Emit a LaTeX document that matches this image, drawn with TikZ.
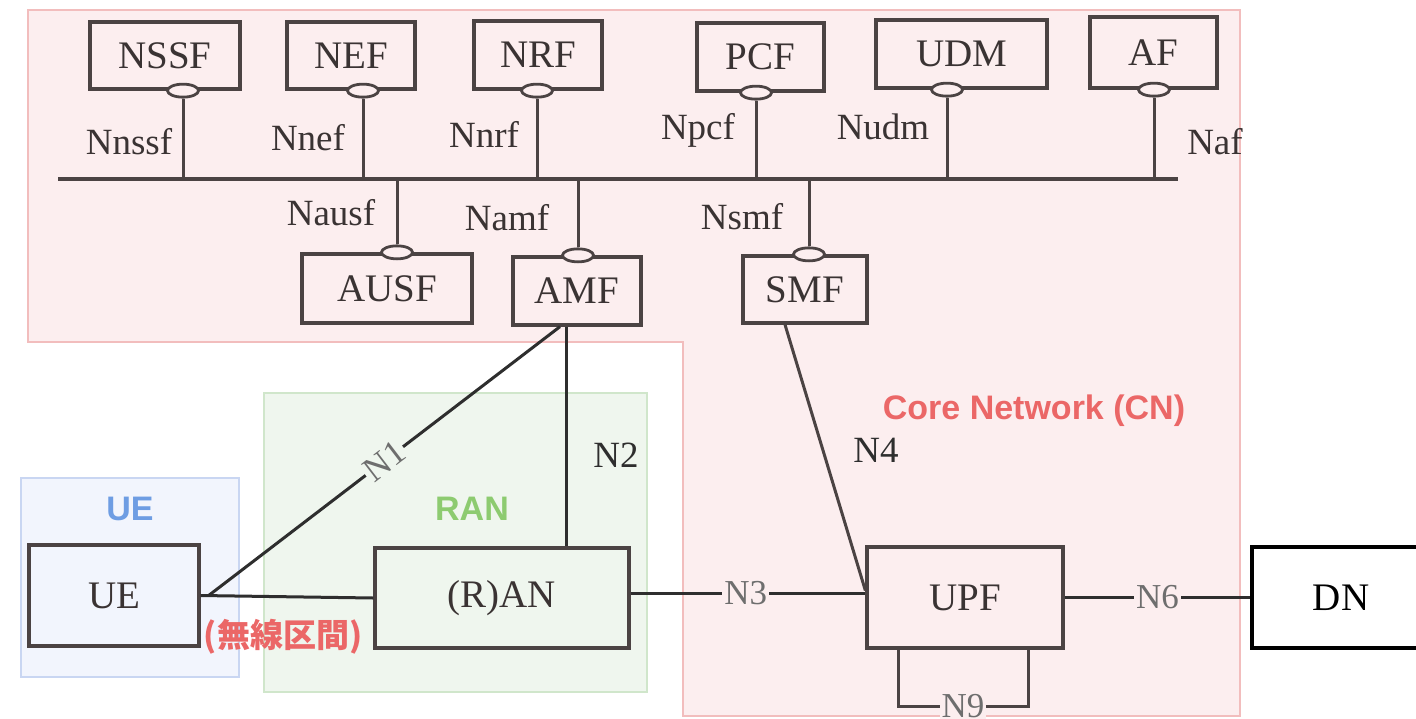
\documentclass[tikz,border=0pt]{standalone}
\usepackage{fontspec}
\setmainfont{Liberation Serif}
\newfontfamily\labelsans{Liberation Sans}
\newfontfamily\cjk{Noto Sans CJK JP}
\usetikzlibrary{shapes.geometric}

\definecolor{cnpink}{HTML}{FCEEEF}
\definecolor{cnedge}{HTML}{F2BDBD}
\definecolor{uefill}{HTML}{F2F5FD}
\definecolor{ueedge}{HTML}{C9D6F2}
\definecolor{ranfill}{HTML}{EFF6EE}
\definecolor{ranedge}{HTML}{D0E6CB}
\definecolor{linec}{HTML}{4B4343}
\definecolor{darkline}{HTML}{2E2E2E}
\definecolor{txtc}{HTML}{3A3333}
\definecolor{ifgray}{HTML}{6E6E6E}
\definecolor{cnred}{HTML}{EB6767}
\definecolor{ueblue}{HTML}{6E9DE3}
\definecolor{rangreen}{HTML}{8DCB70}

\newcommand\nffont{\fontsize{39}{40}\selectfont}
\newcommand\iffont{\fontsize{37}{38}\selectfont}
\newcommand\refpfont{\fontsize{35}{36}\selectfont}
\newcommand\grpfont{\fontsize{34}{35}\selectfont\labelsans\bfseries}

\tikzset{
  nfbox/.style={draw=linec, line width=3.3pt, fill=cnpink, text=txtc,
    font=\nffont, inner sep=0pt},
  port/.style={ellipse, draw=linec, line width=2.8pt, fill=cnpink,
    minimum width=31pt, minimum height=13pt, inner sep=0pt},
  busline/.style={draw=linec, line width=3.3pt},
  ifline/.style={draw=linec, line width=3pt},
  reflink/.style={draw=darkline, line width=3pt},
  iflabel/.style={text=txtc, font=\iffont, inner sep=0pt},
  reflabel/.style={text=ifgray, font=\refpfont, inner sep=2pt},
  grplabel/.style={font=\grpfont, inner sep=0pt},
}

\begin{document}
\begin{tikzpicture}[x=1pt, y=-1pt]
\useasboundingbox (0,0) rectangle (1416,718);

% ---------- grouping areas ----------
\path[fill=cnpink, draw=cnedge, line width=1.2pt]
  (28,10) -- (1240,10) -- (1240,716) -- (683,716) -- (683,342) -- (28,342) -- cycle;
\path[fill=uefill, draw=ueedge, line width=1.2pt] (21,478) rectangle (239,677);
\path[fill=ranfill, draw=ranedge, line width=1.2pt] (264,393) rectangle (647,692);

\node[grplabel, text=cnred] (cnlbl) at (1034,411) {Core Network (CN)};
\node[grplabel, text=ueblue] (uelbl) at (130,509) {UE};
\node[grplabel, text=rangreen] (ranlbl) at (472,509) {RAN};

% ---------- service based bus ----------
\coordinate (busL) at (58,179);
\coordinate (busR) at (1178,179);
\draw[busline] (busL) -- (busR);

% ---------- network functions above the bus ----------
\node[nfbox, minimum width=150pt, minimum height=67pt] (nssf) at (165,55.5) {NSSF};
\node[nfbox, minimum width=128pt, minimum height=67pt] (nef)  at (351,55.5) {NEF};
\node[nfbox, minimum width=128pt, minimum height=68pt] (nrf)  at (538,55)   {NRF};
\node[nfbox, minimum width=127pt, minimum height=68pt] (pcf)  at (760.5,57) {PCF};
\node[nfbox, minimum width=171pt, minimum height=68pt] (udm)  at (961.5,54) {UDM};
\node[nfbox, minimum width=127pt, minimum height=71pt] (af)   at (1153.5,52.5) {AF};

% ---------- network functions below the bus ----------
\node[nfbox, minimum width=170pt, minimum height=69pt] (ausf) at (387,288.5) {AUSF};
\node[nfbox, minimum width=128pt, minimum height=68pt] (amf)  at (577,291)   {AMF};
\node[nfbox, minimum width=124pt, minimum height=67pt] (smf)  at (805,289.5) {SMF};

% ---------- service interface ports ----------
\node[port] (nssfp) at (183,0 |- nssf.south) {};
\node[port] (nefp)  at (363,0 |- nef.south) {};
\node[port] (nrfp)  at (537,0 |- nrf.south) {};
\node[port] (pcfp)  at (756,0 |- pcf.south) {};
\node[port] (udmp)  at (947,0 |- udm.south) {};
\node[port] (afp)   at (1154,0 |- af.south) {};
\node[port] (ausfp) at (397,0 |- ausf.north) {};
\node[port] (amfp)  at (578,0 |- amf.north) {};
\node[port] (smfp)  at (809,0 |- smf.north) {};

\foreach \p in {nssfp,nefp,nrfp,pcfp,udmp,afp}
  \draw[ifline] (\p.south) -- (\p.south |- busL);
\foreach \p in {ausfp,amfp,smfp}
  \draw[ifline] (\p.north) -- (\p.north |- busL);

% ---------- service interface names ----------
\node[iflabel] (lnssf) at (129,142) {Nnssf};
\node[iflabel] (lnef)  at (308,138) {Nnef};
\node[iflabel] (lnrf)  at (484,134) {Nnrf};
\node[iflabel] (lpcf)  at (698,130) {Npcf};
\node[iflabel] (ludm)  at (883,127) {Nudm};
\node[iflabel] (laf)   at (1215,142) {Naf};
\node[iflabel] (lausf) at (331,213) {Nausf};
\node[iflabel] (lamf)  at (507,218) {Namf};
\node[iflabel] (lsmf)  at (742,217) {Nsmf};

% ---------- user plane and access ----------
\node[nfbox, fill=uefill, minimum width=170pt, minimum height=101pt] (ue) at (114,595.5) {UE};
\node[nfbox, fill=ranfill, minimum width=254pt, minimum height=100pt] (ran) at (502,598) {(R)AN};
\node[nfbox, minimum width=196pt, minimum height=101pt] (upf) at (965,597.5) {UPF};
\node[nfbox, draw=black, text=black, fill=white, minimum width=178pt, minimum height=101pt] (dn) at (1341,597.5) {DN};

% radio link and N1
\coordinate (air) at ([xshift=8pt]ue.east);
\draw[reflink] (ue.east) -- (ran.west);
\draw[reflink] (air) -- node[reflabel, sloped, fill=ranfill, pos=0.5] (n1) {N1} ([xshift=-17pt]amf.south);
\node[grplabel, text=cnred, font=\fontsize{33}{34}\selectfont\cjk\bfseries] (air-lbl) at (283,637) {(無線区間)};

% N2
\coordinate (n2top) at ([xshift=-11pt]amf.south);
\draw[reflink] (n2top) -- (n2top |- ran.north);
\node[iflabel, text=darkline] (n2) at (616,455) {N2};

% N3
\draw[reflink] ([yshift=5pt]ran.east) -- node[reflabel, fill=cnpink, pos=0.49] (n3) {N3} ([yshift=5pt]ran.east -| upf.west);

% N4
\draw[ifline] ([xshift=-20pt]smf.south) -- ([yshift=7pt]upf.west);
\node[iflabel, text=darkline] (n4) at (876,450) {N4};

% N6
\draw[reflink] (upf.east) -- node[reflabel, fill=cnpink, pos=0.5] (n6) {N6} (dn.west);

% N9 loop back into the UPF
\coordinate (n9a) at ([xshift=-67pt]upf.south);
\coordinate (n9b) at ([xshift=63pt]upf.south);
\draw[ifline] (n9a) -- (n9a |- 0,706) -- node[reflabel, fill=cnpink, pos=0.5] (n9) {N9} (n9b |- 0,706) -- (n9b);
\end{tikzpicture}
\end{document}
